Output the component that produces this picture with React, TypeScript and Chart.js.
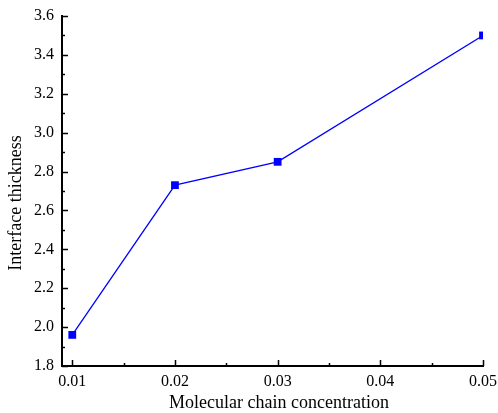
import React, { useEffect, useRef } from "react";
import { Chart, registerables } from "chart.js";

Chart.register(...registerables);

const xValues = [0.01, 0.02, 0.03, 0.05];
const yValues = [1.96, 2.73, 2.85, 3.5];
const xMajorTicks = [0.01, 0.02, 0.03, 0.04, 0.05];
const xMinorTicks = [0.015, 0.025, 0.035, 0.045];
const yMajorTicks = [1.8, 2.0, 2.2, 2.4, 2.6, 2.8, 3.0, 3.2, 3.4, 3.6];
const yMinorTicks = [1.9, 2.1, 2.3, 2.5, 2.7, 2.9, 3.1, 3.3, 3.5];
const xTitle = "Molecular chain concentration";
const yTitle = "Interface thickness";

const FONT = "'Liberation Serif', 'Times New Roman', serif";

const inwardTicks = {
  id: "inwardTicks",
  afterDraw(chart: any) {
    const ctx = chart.ctx;
    const xs = chart.scales.x;
    const ys = chart.scales.y;
    const area = chart.chartArea;
    ctx.save();
    ctx.strokeStyle = "#000";
    ctx.lineWidth = 1.5;
    ctx.beginPath();
    xMajorTicks.forEach((v) => {
      const px = Math.round(xs.getPixelForValue(v)) + 0.5;
      ctx.moveTo(px, area.bottom);
      ctx.lineTo(px, area.bottom - 6);
    });
    xMinorTicks.forEach((v) => {
      const px = Math.round(xs.getPixelForValue(v)) + 0.5;
      ctx.moveTo(px, area.bottom);
      ctx.lineTo(px, area.bottom - 3);
    });
    yMajorTicks.forEach((v) => {
      const py = Math.round(ys.getPixelForValue(v)) + 0.5;
      ctx.moveTo(area.left, py);
      ctx.lineTo(area.left + 6, py);
    });
    yMinorTicks.forEach((v) => {
      const py = Math.round(ys.getPixelForValue(v)) + 0.5;
      ctx.moveTo(area.left, py);
      ctx.lineTo(area.left + 3, py);
    });
    ctx.stroke();

    ctx.fillStyle = "#000";
    ctx.font = "18px " + FONT;
    ctx.textAlign = "center";
    ctx.textBaseline = "middle";
    ctx.fillText(xTitle, 279, 403);
    ctx.translate(16, 203);
    ctx.rotate(-Math.PI / 2);
    ctx.fillText(yTitle, 0, 0);
    ctx.restore();
  },
};

export default function App() {
  const ref = useRef<HTMLCanvasElement | null>(null);
  useEffect(() => {
    document.body.style.margin = "0";
    const chart = new Chart(ref.current as HTMLCanvasElement, {
      type: "line",
      data: {
        datasets: [
          {
            data: xValues.map((x, i) => ({ x, y: yValues[i] })),
            borderColor: "#0000ff",
            backgroundColor: "#0000ff",
            borderWidth: 1.3,
            pointStyle: "rect",
            pointRadius: 5.5,
            pointBorderWidth: 0,
            tension: 0,
          },
        ],
      },
      options: {
        animation: false,
        responsive: false,
        layout: { padding: { top: 16, right: 15, left: 0, bottom: 0 } },
        plugins: { legend: { display: false }, tooltip: { enabled: false } },
        scales: {
          x: {
            type: "linear",
            min: 0.009,
            max: 0.05,
            afterBuildTicks: (s: any) => {
              s.ticks = xMajorTicks.map((v) => ({ value: v }));
            },
            afterFit: (s: any) => {
              s.height = 47;
              s.paddingLeft = 0;
              s.paddingRight = 0;
            },
            grid: { display: false, drawTicks: false },
            border: { display: true, color: "#000", width: 2 },
            ticks: {
              color: "#000",
              padding: 6,
              maxRotation: 0,
              font: { family: FONT, size: 16 },
              callback: (v: any) => Number(v).toFixed(2),
            },
          },
          y: {
            type: "linear",
            min: 1.8,
            max: 3.6,
            afterBuildTicks: (s: any) => {
              s.ticks = yMajorTicks.map((v) => ({ value: v }));
            },
            afterFit: (s: any) => {
              s.width = 62;
              s.paddingTop = 0;
              s.paddingBottom = 0;
            },
            grid: { display: false, drawTicks: false },
            border: { display: true, color: "#000", width: 2 },
            ticks: {
              color: "#000",
              padding: 8,
              font: { family: FONT, size: 16 },
              callback: (v: any) => Number(v).toFixed(1),
            },
          },
        },
      },
      plugins: [inwardTicks],
    } as any);
    return () => chart.destroy();
  }, []);
  return <canvas ref={ref} width={498} height={413} style={{ display: "block" }} />;
}
